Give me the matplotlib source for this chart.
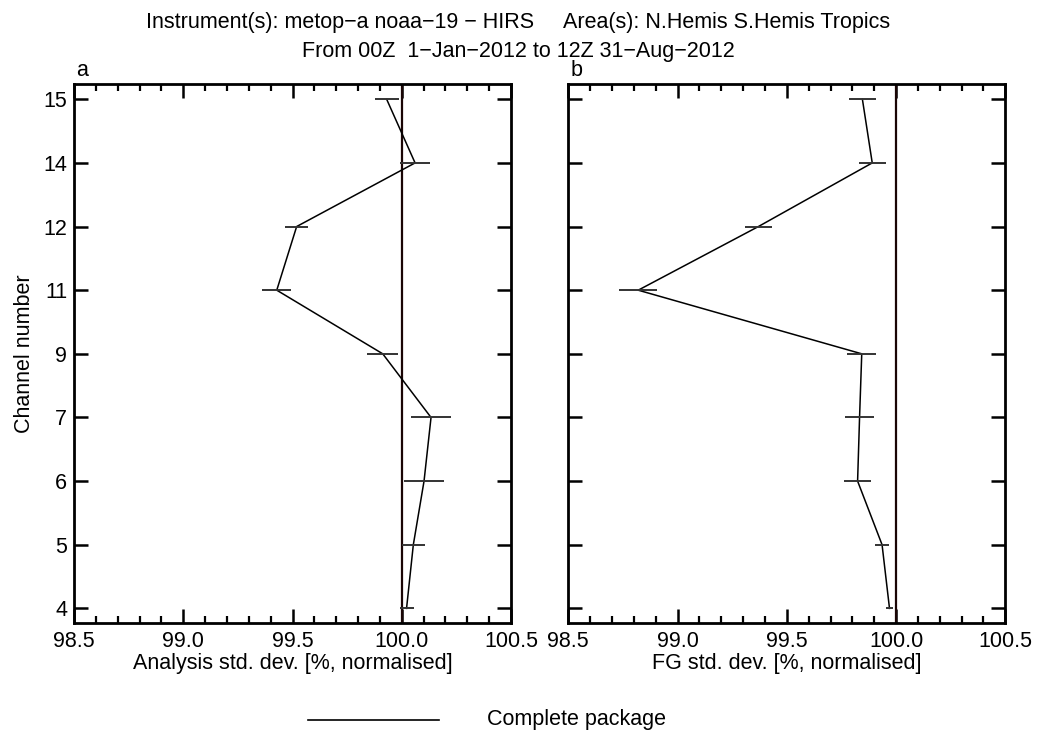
import matplotlib
matplotlib.use("Agg")
import matplotlib.pyplot as plt
from matplotlib.ticker import MultipleLocator, FormatStrFormatter
from matplotlib.lines import Line2D

plt.rcParams['font.family'] = ['Liberation Sans', 'DejaVu Sans']

channels = [4, 5, 6, 7, 9, 11, 12, 14, 15]

analysis_std = [100.022, 100.053, 100.102, 100.134, 99.913, 99.428, 99.519, 100.061, 99.931]
analysis_err = [0.032, 0.053, 0.093, 0.093, 0.070, 0.066, 0.052, 0.070, 0.055]

fg_std = [99.970, 99.936, 99.824, 99.833, 99.843, 98.820, 99.370, 99.891, 99.846]
fg_err = [0.017, 0.033, 0.060, 0.068, 0.067, 0.087, 0.061, 0.061, 0.060]

reference_value = 100.0
x_limits = (98.5, 100.5)

title_line1 = "Instrument(s): metop\u2212a noaa\u221219 \u2212 HIRS     Area(s): N.Hemis S.Hemis Tropics"
title_line2 = "From 00Z  1\u2212Jan\u22122012 to 12Z 31\u2212Aug\u22122012"
legend_label = "Complete package"

FS = 15.5
W, H = 1037, 737

fig = plt.figure(figsize=(W / 100, H / 100), dpi=100)
ax_a = fig.add_axes([74 / W, 1 - 623 / H, 437 / W, 539 / H])
ax_b = fig.add_axes([568.3 / W, 1 - 623 / H, 437 / W, 539 / H])

ypos = list(range(len(channels)))

panels = [
    (ax_a, analysis_std, analysis_err, "Analysis std. dev. [%, normalised]", "a"),
    (ax_b, fg_std, fg_err, "FG std. dev. [%, normalised]", "b"),
]

for ax, vals, errs, xlabel, tag in panels:
    ax.axvline(reference_value, color="#1a0505", lw=1.6, zorder=2)
    ax.plot(vals, ypos, color="black", lw=1.1, zorder=3)
    ax.errorbar(vals, ypos, xerr=errs, fmt="none", ecolor="#333333",
                elinewidth=1.4, capsize=0, zorder=3)
    ax.set_xlim(*x_limits)
    ax.set_ylim(-0.23, len(channels) - 1 + 0.24)
    ax.xaxis.set_major_locator(MultipleLocator(0.5))
    ax.xaxis.set_minor_locator(MultipleLocator(0.1))
    ax.xaxis.set_major_formatter(FormatStrFormatter("%.1f"))
    ax.set_yticks(ypos)
    ax.tick_params(axis="both", which="major", direction="in", length=10, width=1.8,
                   top=True, right=True, labelsize=FS)
    ax.tick_params(axis="x", which="major", pad=6)
    ax.tick_params(axis="y", which="major", pad=5)
    ax.tick_params(axis="x", which="minor", direction="in", length=5, width=1.6,
                   top=True, bottom=True)
    for sp in ax.spines.values():
        sp.set_linewidth(2)
    ax.set_xlabel(xlabel, fontsize=FS, labelpad=0.5)
    ax.text(0.005, 1 + 8 / 539, tag, transform=ax.transAxes, fontsize=FS,
            ha="left", va="baseline")

ax_a.set_yticklabels([str(c) for c in channels])
ax_a.set_ylabel("Channel number", fontsize=FS, labelpad=6)
ax_b.set_yticklabels([])

fig.text(0.5, 1 - 28 / H, title_line1, ha="center", va="baseline", fontsize=FS)
fig.text(0.5, 1 - 56.5 / H, title_line2, ha="center", va="baseline", fontsize=FS)

# legend drawn as a free-standing line and label beneath the panels
y_leg = 1 - 720 / H
fig.add_artist(Line2D([308 / W, 439 / W], [y_leg, y_leg], color="black", lw=1.2))
fig.text(487 / W, 1 - 725 / H, legend_label, ha="left", va="baseline", fontsize=FS)

fig.savefig("out.png", dpi=100)
